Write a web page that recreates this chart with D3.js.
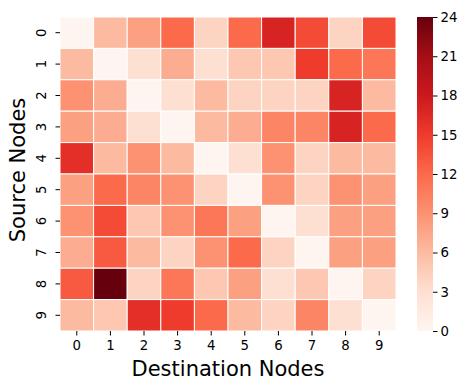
<!DOCTYPE html>
<meta charset="utf-8">
<head>
  <title>Heatmap</title>
</head>
<style>
  body { margin: 0; background: #fff; }
  svg text { font-family: "DejaVu Sans", sans-serif; fill: #000; }
</style>
<body>
<svg width="470" height="390"></svg>
<script src="https://d3js.org/d3.v7.min.js"></script>
<script>

var sources = ["0", "1", "2", "3", "4", "5", "6", "7", "8", "9"];
var destinations = ["0", "1", "2", "3", "4", "5", "6", "7", "8", "9"];

// counts[source][destination]
var counts = [
  [0, 6, 8, 12, 4, 12, 17, 14, 4, 14],
  [6, 0, 3, 7, 3, 5, 5, 15, 12, 11],
  [9, 7, 0, 3, 6, 4, 4, 4, 17, 6],
  [8, 7, 3, 0, 6, 7, 10, 10, 17, 12],
  [16, 6, 9, 6, 0, 3, 9, 4, 6, 6],
  [8, 12, 10, 9, 4, 0, 9, 4, 9, 8],
  [9, 14, 5, 9, 11, 8, 0, 3, 8, 8],
  [7, 13, 6, 4, 9, 12, 4, 0, 8, 8],
  [13, 24, 4, 11, 5, 8, 3, 5, 0, 4],
  [6, 5, 16, 15, 12, 6, 4, 10, 3, 0]
];

var cbarTicks = [0, 3, 6, 9, 12, 15, 18, 21, 24];

// matplotlib "Reds"
var redsStops = ["#fff5f0", "#fee0d2", "#fcbba1", "#fc9272", "#fb6a4a",
                 "#ef3b2c", "#cb181d", "#a50f15", "#67000d"];
var vmax = 24;

var svg = d3.select("svg");

var pLeft = 60, pTop = 17, pRight = 396, pBottom = 331;

var x = d3.scaleBand().domain(destinations).range([pLeft, pRight]);
var y = d3.scaleBand().domain(sources).range([pTop, pBottom]);

var color = d3.scaleLinear()
  .domain(d3.range(redsStops.length).map(function(i) { return i * vmax / (redsStops.length - 1); }))
  .range(redsStops)
  .interpolate(d3.interpolateRgb);

var cells = [];
counts.forEach(function(row, i) {
  row.forEach(function(v, j) {
    cells.push({ s: sources[i], d: destinations[j], v: v });
  });
});

svg.append("g")
  .selectAll("rect")
  .data(cells)
  .enter()
  .append("rect")
  .attr("x", function(d) { return x(d.d); })
  .attr("y", function(d) { return y(d.s); })
  .attr("width", x.bandwidth())
  .attr("height", y.bandwidth())
  .attr("fill", function(d) { return color(d.v); })
  .attr("stroke", "#fff")
  .attr("stroke-width", 1);

// x axis
var xAxis = svg.append("g")
  .attr("transform", "translate(0," + pBottom + ")")
  .call(d3.axisBottom(x).tickSize(4.5).tickPadding(5));
xAxis.select(".domain").remove();
xAxis.attr("font-size", null).attr("font-family", null);
xAxis.selectAll("text").style("font-size", "13.3px");

// y axis, rotated labels like seaborn
var yAxis = svg.append("g")
  .attr("transform", "translate(" + pLeft + ",0)")
  .call(d3.axisLeft(y).tickSize(4.5).tickPadding(4));
yAxis.select(".domain").remove();
yAxis.attr("font-size", null).attr("font-family", null);
yAxis.selectAll("text")
  .style("font-size", "13.3px")
  .attr("text-anchor", "middle")
  .attr("dy", null)
  .attr("x", null)
  .attr("transform", "translate(-19,0) rotate(-90)")
  .attr("dominant-baseline", "central");

svg.append("text")
  .attr("x", (pLeft + pRight) / 2)
  .attr("y", 376)
  .attr("text-anchor", "middle")
  .style("font-size", "21px")
  .text("Destination Nodes");

svg.append("text")
  .attr("transform", "translate(25," + ((pTop + pBottom) / 2 - 4) + ") rotate(-90)")
  .attr("text-anchor", "middle")
  .style("font-size", "21px")
  .text("Source Nodes");

// colorbar
var cbX = 417, cbW = 16;
var cb = d3.scaleLinear().domain([0, vmax]).range([pBottom, pTop]);

var defs = svg.append("defs");
var grad = defs.append("linearGradient")
  .attr("id", "cbgrad")
  .attr("x1", 0).attr("y1", 1).attr("x2", 0).attr("y2", 0);
grad.selectAll("stop")
  .data(redsStops)
  .enter()
  .append("stop")
  .attr("offset", function(d, i) { return i / (redsStops.length - 1); })
  .attr("stop-color", function(d) { return d; });

svg.append("rect")
  .attr("x", cbX)
  .attr("y", pTop)
  .attr("width", cbW)
  .attr("height", pBottom - pTop)
  .attr("fill", "url(#cbgrad)");

var cAxis = svg.append("g")
  .attr("transform", "translate(" + (cbX + cbW) + ",0)")
  .call(d3.axisRight(cb).tickValues(cbarTicks).tickSize(4.5).tickPadding(3));
cAxis.select(".domain").remove();
cAxis.attr("font-size", null).attr("font-family", null);
cAxis.selectAll("text").style("font-size", "13.3px");

</script>
</body>
</html>
